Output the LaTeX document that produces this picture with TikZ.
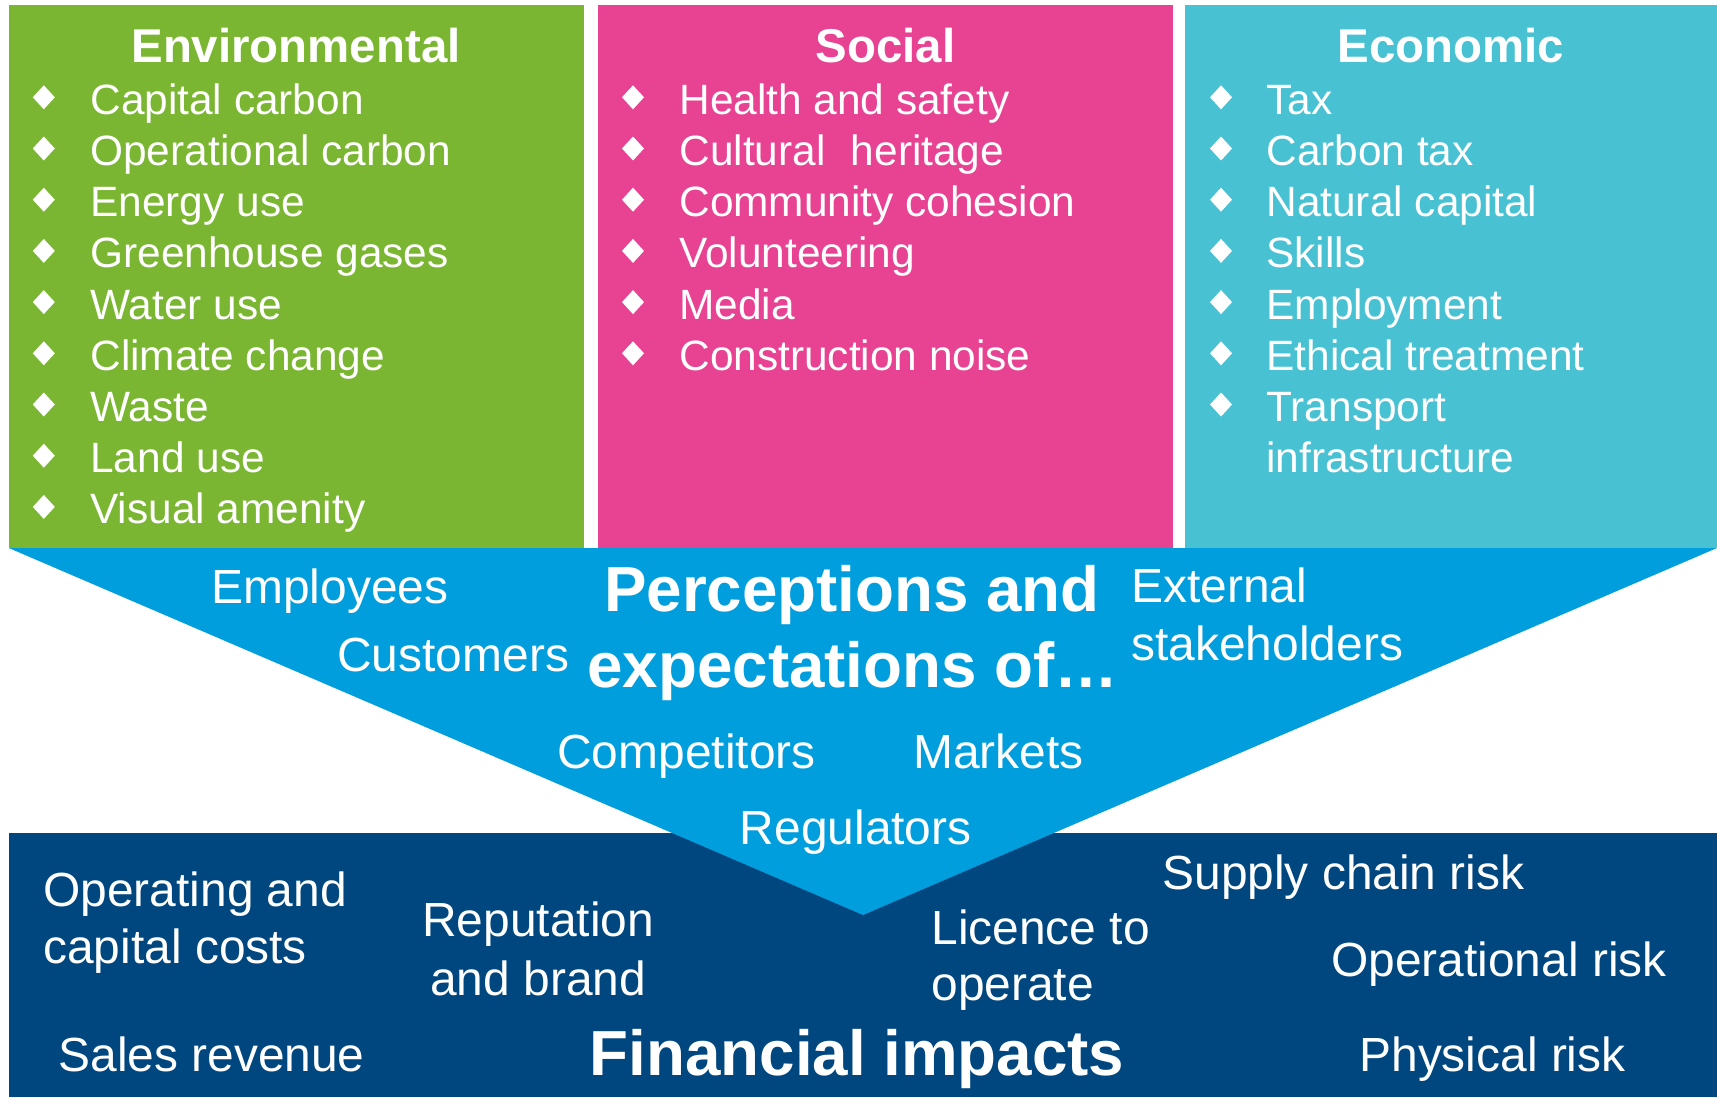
\documentclass[tikz,border=0pt]{standalone}
\usepackage{fontspec}
\setmainfont{Liberation Sans}
\definecolor{envgreen}{HTML}{7AB631}
\definecolor{socpink}{HTML}{E84292}
\definecolor{ecocyan}{HTML}{48C2D3}
\definecolor{chevblue}{HTML}{009EDD}
\definecolor{navyblue}{HTML}{00477F}
\begin{document}
\begin{tikzpicture}[x=0.5pt,y=-0.5pt,
  item/.style={anchor=base west, inner sep=0pt, text=white, font=\fontsize{21.2pt}{25pt}\selectfont},
  head/.style={anchor=base, inner sep=0pt, text=white, font=\bfseries\fontsize{23.7pt}{28pt}\selectfont},
  lbl/.style={anchor=base west, inner sep=0pt, text=white, font=\fontsize{23.95pt}{28pt}\selectfont},
  lblc/.style={lbl, anchor=base},
  big/.style={anchor=base, inner sep=0pt, text=white, font=\bfseries\fontsize{31.85pt}{38pt}\selectfont},
  bul/.pic={\fill[white] (0,-12) -- (11,0) -- (0,12) -- (-11,0) -- cycle;}
]
\useasboundingbox (0,0) rectangle (1717,1097);
\fill[white] (0,0) rectangle (1717,1097);
% panels
\fill[envgreen] (8.8,5) rectangle (583.7,547.5);
\fill[socpink] (598,5) rectangle (1173,547.5);
\fill[ecocyan] (1185,5) rectangle (1717,547.5);
\fill[navyblue] (8.8,832.7) rectangle (1717,1097);
\fill[chevblue] (8.8,548) -- (1717,548) -- (863,915) -- cycle;
% headings
\node[head] (henv) at (296,62.7) {Environmental};
\node[head] (hsoc) at (885.5,62.7) {Social};
\node[head] (heco) at (1451,62.7) {Economic};
% environmental items
\foreach \t [count=\i from 0] in {Capital carbon, Operational carbon, Energy use, Greenhouse gases, Water use, Climate change, Waste, Land use, Visual amenity}{
  \node[item] (env\i) at (90,{114.3+51.2*\i}) {\t};
  \pic at (43.8,{114.3+51.2*\i-17}) {bul};
}
% social items
\foreach \t [count=\i from 0] in {Health and safety, Cultural\hspace{0.6em}heritage, Community cohesion, Volunteering, Media, Construction noise}{
  \node[item] (soc\i) at (679,{114.3+51.2*\i}) {\t};
  \pic at (633,{114.3+51.2*\i-17}) {bul};
}
% economic items
\foreach \t [count=\i from 0] in {Tax, Carbon tax, Natural capital, Skills, Employment, Ethical treatment, Transport}{
  \node[item] (eco\i) at (1266,{114.3+51.2*\i}) {\t};
  \pic at (1221,{114.3+51.2*\i-17}) {bul};
}
\node[item] (eco7) at (1266,{114.3+51.2*7}) {infrastructure};
% chevron texts
\node[big] (pe1) at (852,611.7) {Perceptions and};
\node[big] (pe2) at (853,687) {expectations of…};
\node[lbl] (emp) at (211,603.3) {Employees};
\node[lbl] (cus) at (337,671.7) {Customers};
\node[lbl] (ext1) at (1131,602.5) {External};
\node[lbl] (ext2) at (1131,660) {stakeholders};
\node[lbl] (comp) at (557,768.3) {Competitors};
\node[lbl] (mkt) at (913,768.3) {Markets};
\node[lbl] (reg) at (739.5,844) {Regulators};
% financial texts
\node[lbl] (op1) at (43,906.7) {Operating and};
\node[lbl] (op2) at (43,963) {capital costs};
\node[lblc] (rep1) at (538.2,936.7) {Reputation};
\node[lblc] (rep2) at (538.2,995) {and brand};
\node[lbl] (lic1) at (931,944) {Licence to};
\node[lbl] (lic2) at (931,1000.5) {operate};
\node[lbl] (sup) at (1162,889.3) {Supply chain risk};
\node[lbl] (opr) at (1330.8,976) {Operational risk};
\node[lbl] (sal) at (58.1,1071.7) {Sales revenue};
\node[lbl] (phy) at (1359,1071.7) {Physical risk};
\node[big] (fin) at (857,1075) {Financial impacts};
\end{tikzpicture}
\end{document}
